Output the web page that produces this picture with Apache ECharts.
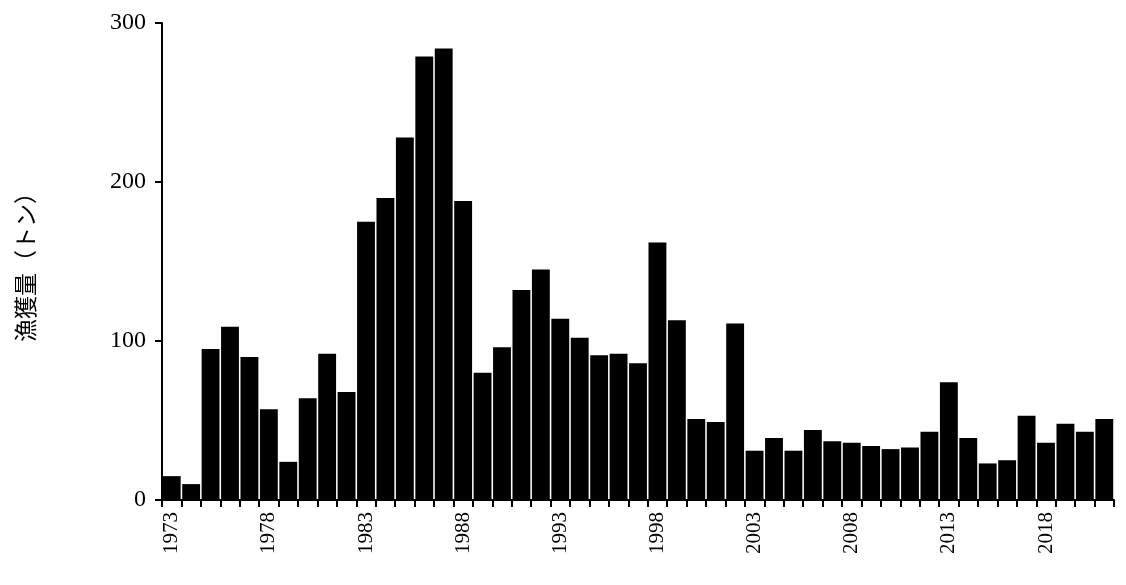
<!DOCTYPE html>
<html>
<head>
<meta charset="utf-8">
<script src="https://cdn.jsdelivr.net/npm/echarts@6/dist/echarts.min.js"></script>
<style>html,body{margin:0;background:#fff}#main{width:1126px;height:585px}</style>
</head>
<body>
<div id="main"></div>
<script>
var years = [];
for (var y = 1973; y <= 2021; y++) years.push(String(y));
var catch_t = [15, 10, 95, 109, 90, 57, 24, 64, 92, 68,
    175, 190, 228, 279, 284, 188, 80, 96, 132, 145,
    114, 102, 91, 92, 86, 162, 113, 51, 49, 111,
    31, 39, 31, 44, 37, 36, 34, 32, 33, 43,
    74, 39, 23, 25, 53, 36, 48, 43, 51];

var chart = echarts.init(document.getElementById('main'));
var font = '"Liberation Serif", "Times New Roman", serif';
chart.setOption({
    animation: false,
    grid: { left: 162, right: 12, top: 23, bottom: 85 },
    xAxis: {
        type: 'category',
        data: years,
        axisLine: { lineStyle: { color: '#000', width: 2 } },
        axisTick: { show: true, interval: 0, length: 7, lineStyle: { color: '#000', width: 2 } },
        axisLabel: {
            rotate: 90, color: '#000', fontSize: 21, fontFamily: font, margin: 12,
            interval: function (i) { return i % 5 === 0; }
        }
    },
    yAxis: {
        type: 'value', min: 0, max: 300, interval: 100,
        name: '漁獲量（トン）', nameLocation: 'middle', nameGap: 125, nameRotate: 90,
        nameTextStyle: { color: '#000', fontSize: 23, fontFamily: '"Noto Sans CJK JP"' },
        splitLine: { show: false },
        axisLine: { show: true, lineStyle: { color: '#000', width: 2 } },
        axisTick: { show: true, length: 7, lineStyle: { color: '#000', width: 2 } },
        axisLabel: { color: '#000', fontSize: 24, fontFamily: font, margin: 16 }
    },
    series: [{
        type: 'bar',
        data: catch_t,
        barCategoryGap: '8%',
        itemStyle: { color: '#000' }
    }]
});
</script>
</body>
</html>
